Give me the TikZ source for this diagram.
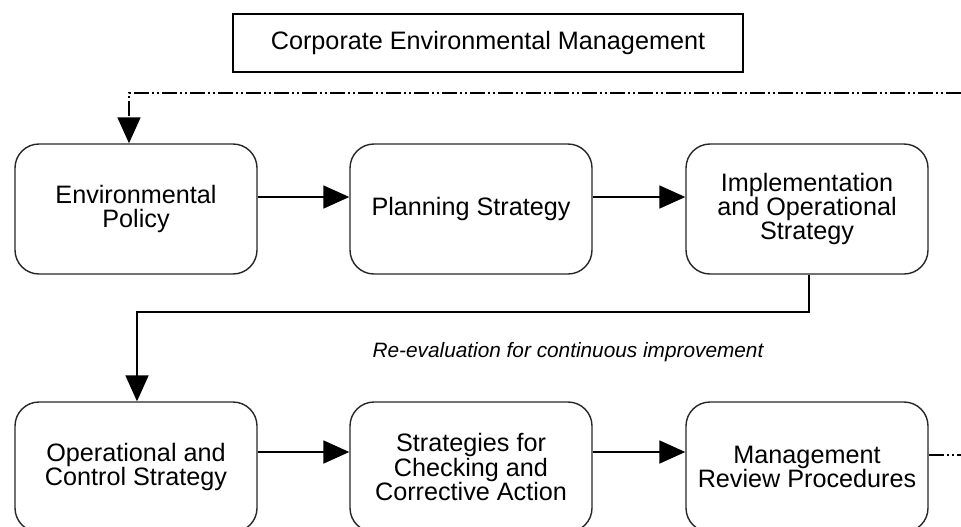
\documentclass[tikz,border=0pt]{standalone}
\usepackage{fontspec}
\setmainfont{Liberation Sans}
\usetikzlibrary{arrows.meta}

\begin{document}
\begin{tikzpicture}[x=0.5pt, y=-0.5pt,
    stage/.style={draw=black!85, line width=0.7pt, rounded corners=12pt,
        minimum width=121pt, minimum height=65pt, align=center,
        font=\fontsize{12.6}{12.2}\selectfont},
    arr/.style={line width=0.9pt, -{Triangle[length=13pt,width=11.5pt]}},
    loopline/.style={line width=0.9pt,
        dash pattern=on 7.5pt off 1.5pt on 1pt off 1.5pt on 1pt off 1.5pt}]
\useasboundingbox (0,0) rectangle (961,526);
%\draw[thin,color=gray!50] (0,0) grid[step=50] (961,526);
\node[draw, line width=0.8pt, minimum width=255pt, minimum height=29pt,
    font=\fontsize{12.6}{12.2}\selectfont] (cem) at (488,43) {Corporate Environmental Management};

\node[stage] (ep)  at (136,209) {Environmental\\Policy};
\node[stage] (ps)  at (471,209) {Planning Strategy};
\node[stage] (ios) at (807,209) {Implementation\\and Operational\\Strategy};
\node[stage] (ocs) at (136,467) {Operational and\\Control Strategy};
\node[stage] (sca) at (471,467) {Strategies for\\Checking and\\Corrective Action};
\node[stage] (mrp) at (807,467) {Management\\Review Procedures};

\node[font=\fontsize{10.4}{12}\selectfont\itshape] (reval) at (568,352)
    {Re-evaluation for continuous improvement};

\coordinate (fbtop) at (961,93);
\coordinate (fbbot) at (961,455);
\coordinate (turn) at (0,312);

\draw[arr] ([yshift=6pt]ep.east) -- ([yshift=6pt]ps.west);
\draw[arr] ([yshift=6pt]ps.east) -- ([yshift=6pt]ios.west);
\draw[arr] ([xshift=1pt]ios.south) -- ([xshift=1pt]ios.south |- turn) -| ([xshift=0.5pt]ocs.north);
\draw[arr] ([yshift=7.5pt]ocs.east) -- ([yshift=7.5pt]sca.west);
\draw[arr] ([yshift=7.5pt]sca.east) -- ([yshift=7.5pt]mrp.west);

\draw[loopline] ([yshift=6pt]mrp.east) -- (fbbot);
\draw[loopline, -{Triangle[length=13pt,width=11.5pt]}] (fbtop) -| ([xshift=-3.5pt]ep.north);
\end{tikzpicture}
\end{document}
